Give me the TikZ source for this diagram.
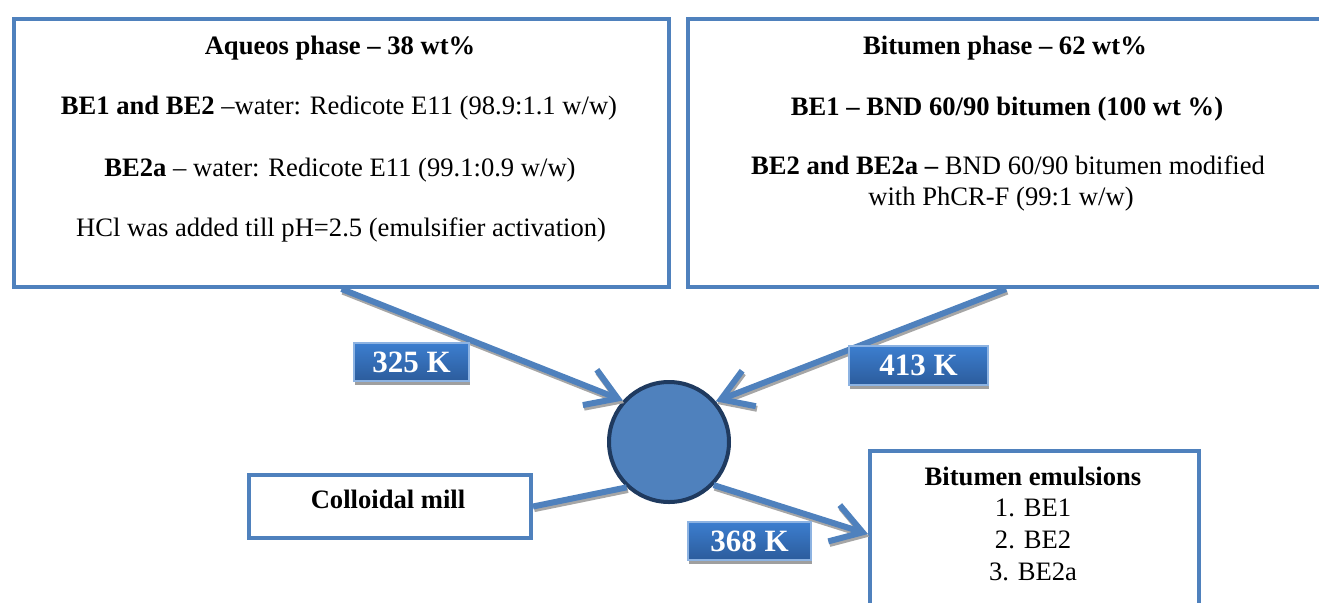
\documentclass[tikz,border=0pt]{standalone}
\usepackage{fontspec}
\setmainfont{Liberation Serif}
\usetikzlibrary{arrows.meta,shadows}

\definecolor{boxblue}{HTML}{4F81BD}
\definecolor{ringblue}{HTML}{1F3A5F}
\definecolor{tagtop}{HTML}{3C7ECF}
\definecolor{tagbottom}{HTML}{2C5C9C}
\definecolor{tagline}{HTML}{8DB3E2}

\tikzset{
  panel/.style={rectangle, draw=boxblue, line width=2pt, fill=white, inner sep=0pt, anchor=north west},
  line/.style={anchor=base, inner sep=0pt},
  tempbox/.style={rectangle, top color=tagtop, bottom color=tagbottom, draw=tagline, line width=0.6pt,
    text=white, font=\bfseries\fontsize{15.5}{18}\selectfont, inner sep=0pt,
    drop shadow={shadow xshift=0.4pt, shadow yshift=-2pt, fill=gray!75, opacity=1}},
  flow/.style={draw=boxblue, line width=3pt, -{Straight Barb[length=15pt,width=19pt]}},
  flowshade/.style={draw=gray!70, line width=3pt, -{Straight Barb[length=15pt,width=19pt]},
    transform canvas={xshift=0.6pt, yshift=-1.3pt}}
}

\begin{document}
\begin{tikzpicture}[x=0.5pt, y=-0.5pt, font=\fontsize{13.3}{16}\selectfont]
            \useasboundingbox (0,0) rectangle (1319,602);

            % Nodes
            \node[panel, minimum width=327.5pt, minimum height=134pt] (aq) at (12,17) {};
            \node[panel, minimum width=335pt, minimum height=134pt] (bit) at (686,17) {};
            \node[panel, minimum width=141pt, minimum height=31.5pt] (mill) at (247,473) {};
            \node[panel, minimum width=164.5pt, minimum height=83pt] (emu) at (868,449) {};
            \node[circle, fill=boxblue, draw=ringblue, line width=2pt, minimum size=60pt, inner sep=0pt] (mix) at (669,442) {};

            \node[line] (aq1) at (340,54) {\textbf{Aqueos phase -- 38 wt\%}};
            \node[line] (aq2) at (339,114) {\textbf{BE1 and BE2} --water: Redicote E11 (98.9:1.1 w/w)};
            \node[line] (aq3) at (340,176) {\textbf{BE2a} -- water: Redicote E11 (99.1:0.9 w/w)};
            \node[line] (aq4) at (341,236) {HCl was added till pH=2.5 (emulsifier activation)};

            \node[line] (bit1) at (1005,54) {\textbf{Bitumen phase -- 62 wt\%}};
            \node[line] (bit2) at (1007,115) {\textbf{BE1 -- BND 60/90 bitumen (100 wt \%)}};
            \node[line] (bit3) at (1008,174) {\textbf{BE2 and BE2a --} BND 60/90 bitumen modified};
            \node[line] (bit4) at (1001,205) {with PhCR-F (99:1 w/w)};

            \node[line] (mill1) at (388,508) {\textbf{Colloidal mill}};

            \node[line] (emu1) at (1033,485) {\textbf{Bitumen emulsions}};
            \node[line] (emu2) at (1033,516) {1. BE1};
            \node[line] (emu3) at (1033,548) {2. BE2};
            \node[line] (emu4) at (1033,580) {3. BE2a};

            % Edges
            \draw[flowshade] (aq.south) -- (mix.138);
            \draw[flow] (aq.south) -- (mix.138);
            \draw[flowshade] (bit.south -| 1006,0) -- (mix.41);
            \draw[flow] (bit.south -| 1006,0) -- (mix.41);
            \draw[flowshade, -] (mill.east) -- (mix.227);
            \draw[flow, -] (mill.east) -- (mix.227);
            \draw[flowshade] (mix.-44) -- (emu.west);
            \draw[flow] (mix.-44) -- (emu.west);

            % Temperatures
            \node[tempbox, minimum width=57.5pt, minimum height=19pt] (t325) at (411.5,362) {325 K};
            \node[tempbox, minimum width=69.5pt, minimum height=19.5pt] (t413) at (918.5,365.5) {413 K};
            \node[tempbox, minimum width=61.5pt, minimum height=19pt] (t368) at (749.5,541) {368 K};
        \end{tikzpicture}
\end{document}
